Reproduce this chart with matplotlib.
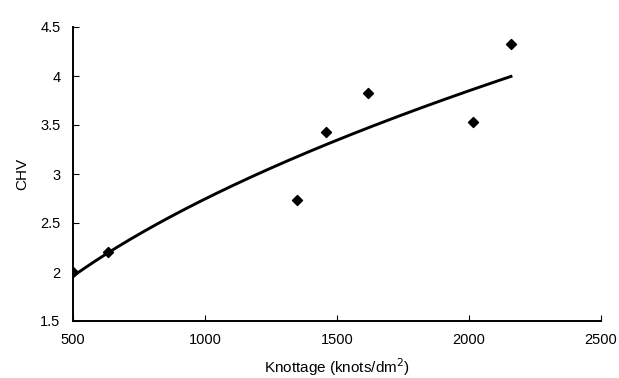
import numpy as np
import matplotlib
matplotlib.use("Agg")
import matplotlib.pyplot as plt

knottage = [500, 633, 1347, 1458, 1617, 2015, 2159]
chv = [2.0, 2.2, 2.73, 3.43, 3.83, 3.53, 4.33]
x_ticks = [500, 1000, 1500, 2000, 2500]
y_ticks = [1.5, 2, 2.5, 3, 3.5, 4, 4.5]
y_tick_labels = ["1.5", "2", "2.5", "3", "3.5", "4", "4.5"]

plt.rcParams['font.family'] = ['Liberation Sans', 'DejaVu Sans']

fig = plt.figure(figsize=(6.19, 3.78), dpi=100)
ax = fig.add_axes([73/619, 57/378, 528/619, 294/378])

# power trendline fitted to the data
b, lna = np.polyfit(np.log(knottage), np.log(chv), 1)
xf = np.linspace(min(knottage), max(knottage), 200)
ax.plot(xf, np.exp(lna) * xf**b, color='black', lw=2.1, zorder=2)
ax.scatter(knottage, chv, marker='D', s=26, color='black', zorder=3)

ax.set_xlim(500, 2500)
ax.set_ylim(1.5, 4.5)
ax.set_xticks(x_ticks)
ax.set_yticks(y_ticks)
ax.set_yticklabels(y_tick_labels)
for s in ['top', 'right']:
    ax.spines[s].set_visible(False)
for s in ['left', 'bottom']:
    ax.spines[s].set_linewidth(1.4)
ax.tick_params(axis='x', direction='in', length=4, pad=9, labelsize=10.5)
ax.tick_params(axis='y', direction='in', length=4, pad=9, labelsize=10.5)
ax.set_xlabel('Knottage (knots/dm$^2$)', fontsize=11, labelpad=6)
ax.set_ylabel('CHV', fontsize=11, labelpad=8)

fig.savefig('out.png', dpi=100)
